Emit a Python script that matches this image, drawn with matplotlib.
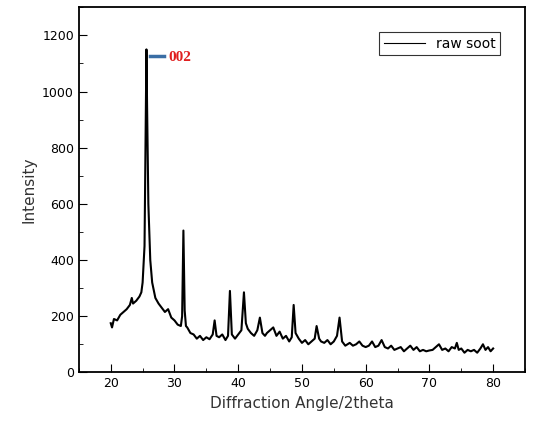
import matplotlib
matplotlib.use("Agg")
import matplotlib.pyplot as plt
from matplotlib.ticker import MultipleLocator

angle = [20.0, 20.2, 20.5, 21.0, 21.5, 22.0, 22.5, 23.0, 23.3, 23.5, 24.0, 24.5, 24.8, 25.0, 25.3, 25.5,
         25.6, 25.7, 25.9, 26.2, 26.5, 27.0, 27.5, 28.0, 28.5, 29.0, 29.5, 30.0, 30.5, 31.0, 31.2, 31.4,
         31.6, 31.8, 32.0, 32.5, 33.0, 33.5, 34.0, 34.5, 35.0, 35.5, 36.0, 36.3, 36.6, 37.0, 37.5, 38.0,
         38.4, 38.7, 39.0, 39.5, 40.0, 40.5, 40.9, 41.2, 41.5, 42.0, 42.5, 43.0, 43.4, 43.8, 44.2, 44.5,
         45.0, 45.5, 46.0, 46.5, 47.0, 47.5, 48.0, 48.4, 48.7, 49.0, 49.5, 50.0, 50.5, 51.0, 51.5, 52.0,
         52.3, 52.7, 53.0, 53.5, 54.0, 54.5, 55.0, 55.5, 55.9, 56.3, 56.8, 57.5, 58.0, 58.5, 59.0, 59.5,
         60.0, 60.5, 61.0, 61.5, 62.0, 62.5, 63.0, 63.5, 64.0, 64.5, 65.0, 65.5, 66.0, 66.5, 67.0, 67.5,
         68.0, 68.5, 69.0, 69.5, 70.0, 70.5, 71.0, 71.5, 72.0, 72.5, 73.0, 73.5, 74.0, 74.3, 74.6, 75.0,
         75.5, 76.0, 76.5, 77.0, 77.5, 78.0, 78.4, 78.8, 79.2, 79.6, 80.0]
intensity = [175, 160, 190, 185, 205, 215, 225, 240, 265, 245, 255, 270, 285, 320, 450, 900,
             1150, 950, 600, 400, 320, 265, 245, 230, 215, 225, 195, 185, 170, 165, 200, 505,
             220, 165, 160, 140, 135, 120, 130, 115, 125, 118, 135, 185, 130, 125, 135, 115,
             130, 290, 135, 120, 135, 150, 285, 175, 155, 140, 130, 150, 195, 140, 130, 140,
             150, 160, 130, 145, 120, 130, 110, 125, 240, 140, 120, 105, 115, 100, 110, 120,
             165, 120, 110, 105, 115, 100, 110, 130, 195, 110, 95, 105, 95, 100, 110, 95,
             90, 95, 110, 90, 95, 115, 90, 85, 95, 80, 85, 90, 75, 85, 95, 80,
             90, 75, 80, 75, 78, 80, 90, 100, 80, 85, 75, 90, 85, 105, 80, 85,
             70, 80, 75, 80, 70, 85, 100, 80, 90, 75, 85]

fig = plt.figure(figsize=(5.33, 4.28), dpi=100)
ax = fig.add_axes([0.148, 0.130, 0.837, 0.853])
ax.plot(angle, intensity, color="black", linewidth=1.5, label="raw soot")
ax.set_xlim(15, 85)
ax.set_ylim(0, 1300)
ax.xaxis.set_major_locator(MultipleLocator(10))
ax.xaxis.set_minor_locator(MultipleLocator(5))
ax.yaxis.set_major_locator(MultipleLocator(200))
ax.yaxis.set_minor_locator(MultipleLocator(100))
ax.tick_params(direction="in", which="both", labelsize=9)
ax.tick_params(which="major", length=6)
ax.tick_params(which="minor", length=3)
ax.set_xlabel("Diffraction Angle/2theta", fontsize=11, color="#333333")
ax.set_ylabel("Intensity", fontsize=11, color="#333333")
for s in ax.spines.values():
    s.set_linewidth(1.3)

ax.plot([26.2, 28.4], [1125, 1125], color="#3a6ea5", linewidth=2.5)
ax.text(29.0, 1120, "002", color="#e02020", fontsize=11, fontweight="bold",
        family="Liberation Serif", va="center")

leg = ax.legend(loc="upper right", fontsize=10, frameon=True, fancybox=False,
                edgecolor="black", handlelength=3.0, borderpad=0.3,
                bbox_to_anchor=(0.96, 0.95))
leg.get_frame().set_linewidth(0.8)
leg.get_lines()[0].set_linewidth(0.8)

fig.savefig("out.png", dpi=100)
